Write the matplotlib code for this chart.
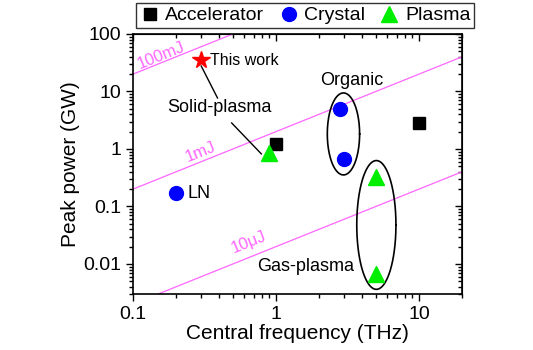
import numpy as np
import matplotlib
matplotlib.use("Agg")
import matplotlib.pyplot as plt

plt.rcParams["font.family"] = ["Liberation Sans", "DejaVu Sans"]

# ── data ──────────────────────────────────────────────────────────────────────
acc_freq = [1.0, 10.0]
acc_power = [1.2, 2.8]

crystal_freq = [0.2, 2.8, 3.0]
crystal_power = [0.17, 5.0, 0.66]

plasma_freq = [0.9, 5.0, 5.0]
plasma_power = [0.85, 0.33, 0.0066]

this_work_freq = [0.3]
this_work_power = [35]

# energy lines: P(GW) = 2 * E(mJ) * f(THz)
energy_mj = [100, 1, 0.01]
energy_labels = ["100mJ", "1mJ", "10\u03bcJ"]
energy_label_pos = [(0.157, 43), (0.296, 0.9), (0.645, 0.024)]

# ellipses (log10 centre, half-widths in decades)
ellipses = [(0.472, 0.261, 0.113, 0.713),   # organic
            (0.702, -1.322, 0.137, 1.12)]   # gas-plasma

magenta = "#ff66ff"

fig = plt.figure(figsize=(5.33, 3.5), dpi=100)
ax = fig.add_axes([0.2495, 0.16, 0.6173, 0.743])
ax.set_xscale("log")
ax.set_yscale("log")
ax.set_xlim(0.1, 20)
ax.set_ylim(0.003, 100)

# energy lines
f_line = np.array([0.1, 20])
for e in energy_mj:
    ax.plot(f_line, 2 * e * f_line, color=magenta, lw=0.9, zorder=1)

# line-label angle from display geometry
fig.canvas.draw()
p0 = ax.transData.transform((1, 1))
p1 = ax.transData.transform((10, 10))
angle = np.degrees(np.arctan2(p1[1] - p0[1], p1[0] - p0[0]))
for lab, (fx, py) in zip(energy_labels, energy_label_pos):
    ax.text(fx, py, lab, color=magenta, fontsize=12, rotation=angle,
            rotation_mode="anchor", ha="center", va="center")

# ellipses
t = np.linspace(0, 2 * np.pi, 200)
for cx, cy, a, b in ellipses:
    ax.plot(10 ** (cx + a * np.cos(t)), 10 ** (cy + b * np.sin(t)),
            color="black", lw=1.2, zorder=2)

# pointer lines
ax.plot([0.30, 0.39], [27.7, 7.7], color="black", lw=1.0, zorder=2)
ax.plot([0.49, 0.79], [2.83, 0.82], color="black", lw=1.0, zorder=2)

# markers
ax.plot(acc_freq, acc_power, "s", color="black", ms=9, ls="none",
        label="Accelerator", zorder=3)
ax.plot(crystal_freq, crystal_power, "o", color="#0000ff", ms=10, ls="none",
        label="Crystal", zorder=3)
ax.plot(plasma_freq, plasma_power, "^", color="#00ee00", ms=12, ls="none",
        label="Plasma", zorder=3)
ax.plot(this_work_freq, this_work_power, "*", color="#ff0000", ms=13,
        ls="none", zorder=4)

# text annotations
ax.text(0.345, 35, "This work", fontsize=11.5, ha="left", va="center")
ax.text(0.40, 5.2, "Solid-plasma", fontsize=13, ha="center", va="center")
ax.text(3.41, 15.8, "Organic", fontsize=13, ha="center", va="center")
ax.text(1.62, 0.009, "Gas-plasma", fontsize=13, ha="center", va="center")
ax.text(0.24, 0.17, "LN", fontsize=13, ha="left", va="center")

ax.set_xlabel("Central frequency (THz)", fontsize=15, labelpad=1)
ax.set_ylabel("Peak power (GW)", fontsize=15, labelpad=2)

ax.set_xticks([0.1, 1, 10])
ax.set_xticklabels(["0.1", "1", "10"])
ax.set_yticks([0.01, 0.1, 1, 10, 100])
ax.set_yticklabels(["0.01", "0.1", "1", "10", "100"])
ax.tick_params(which="both", direction="out", labelsize=14, width=1.0)
ax.tick_params(which="major", length=5)
ax.tick_params(which="minor", length=3)
for s in ax.spines.values():
    s.set_linewidth(1.2)

# mirrored inward ticks on top/right
top = ax.secondary_xaxis("top")
top.set_xticks([0.1, 1, 10])
top.tick_params(which="both", direction="in", labeltop=False, width=1.0)
top.tick_params(which="major", length=5)
top.tick_params(which="minor", length=3)
right = ax.secondary_yaxis("right")
right.set_yticks([0.01, 0.1, 1, 10, 100])
right.tick_params(which="both", direction="in", labelright=False, width=1.0)
right.tick_params(which="major", length=5)
right.tick_params(which="minor", length=3)

leg = fig.legend(loc="upper left", bbox_to_anchor=(136 / 533, 1 - 3 / 350),
                 ncol=3, fontsize=14, frameon=True, fancybox=False,
                 edgecolor="black", handletextpad=0.3, columnspacing=0.75,
                 borderpad=0.2, borderaxespad=0, handlelength=1.0)
leg.get_frame().set_linewidth(1.0)

fig.savefig("out.png", dpi=100)
